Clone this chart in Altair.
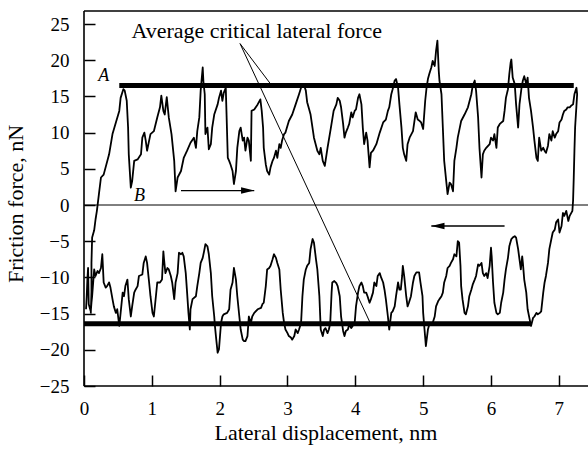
import altair as alt
import pandas as pd

# ---- forward (upper) trace: lateral displacement (nm), friction force (nN)
up_x = [0.10, 0.11, 0.11, 0.12, 0.15, 0.17, 0.19, 0.22, 0.25, 0.29,
        0.37, 0.42, 0.47, 0.52, 0.54, 0.58, 0.60, 0.63, 0.65, 0.66,
        0.69, 0.71, 0.74, 0.79, 0.84, 0.86, 0.89, 0.91, 0.93, 0.96,
        0.98, 1.03, 1.08, 1.12, 1.14, 1.17, 1.19, 1.22, 1.25, 1.29,
        1.33, 1.35, 1.38, 1.43, 1.47, 1.52, 1.57, 1.62, 1.65, 1.67,
        1.70, 1.72, 1.75, 1.76, 1.78, 1.79, 1.82, 1.84, 1.87, 1.89,
        1.92, 1.97, 1.99, 2.02, 2.04, 2.06, 2.09, 2.10, 2.12, 2.14,
        2.16, 2.19, 2.21, 2.24, 2.26, 2.29, 2.31, 2.34, 2.36, 2.38,
        2.41, 2.43, 2.46, 2.47, 2.51, 2.56, 2.60, 2.62, 2.64, 2.65,
        2.68, 2.70, 2.73, 2.75, 2.78, 2.80, 2.83, 2.85, 2.88, 2.90,
        2.92, 2.95, 2.97, 3.02, 3.07, 3.12, 3.17, 3.21, 3.24, 3.27,
        3.29, 3.32, 3.34, 3.39, 3.44, 3.47, 3.49, 3.52, 3.55, 3.59,
        3.64, 3.68, 3.72, 3.74, 3.77, 3.79, 3.82, 3.84, 3.86, 3.89,
        3.91, 3.94, 3.96, 3.99, 4.01, 4.04, 4.06, 4.09, 4.11, 4.13,
        4.16, 4.18, 4.21, 4.23, 4.26, 4.31, 4.36, 4.41, 4.45, 4.48,
        4.50, 4.53, 4.55, 4.58, 4.60, 4.63, 4.65, 4.68, 4.70, 4.72,
        4.75, 4.77, 4.80, 4.85, 4.89, 4.92, 4.95, 4.97, 5.00, 5.03,
        5.05, 5.07, 5.09, 5.12, 5.14, 5.17, 5.19, 5.21, 5.23, 5.24,
        5.27, 5.29, 5.31, 5.34, 5.36, 5.39, 5.41, 5.44, 5.46, 5.49,
        5.51, 5.54, 5.56, 5.61, 5.66, 5.71, 5.73, 5.76, 5.78, 5.81,
        5.83, 5.86, 5.88, 5.90, 5.93, 5.98, 6.00, 6.03, 6.05, 6.08,
        6.10, 6.13, 6.18, 6.20, 6.22, 6.25, 6.27, 6.29, 6.30, 6.32,
        6.35, 6.37, 6.40, 6.42, 6.45, 6.47, 6.49, 6.52, 6.54, 6.56,
        6.59, 6.62, 6.64, 6.67, 6.69, 6.71, 6.74, 6.77, 6.79, 6.81,
        6.84, 6.86, 6.89, 6.91, 6.94, 6.96, 6.99, 7.01, 7.04, 7.06,
        7.08, 7.11, 7.13, 7.16, 7.18, 7.21, 7.23, 7.26, 7.27, 7.24,
        7.23, 7.22, 7.21, 7.20]
up_y = [-15.0, -12.0, -8.0, -4.5, -3.5, -2.0, -0.8, 1.5, 3.8, 4.2,
        7.0, 9.8, 11.4, 13.0, 14.8, 16.0, 15.8, 14.4, 10.7, 7.0,
        2.4, 3.3, 6.1, 6.3, 7.0, 9.3, 10.0, 8.9, 7.5, 8.9,
        9.8, 10.2, 12.1, 13.5, 15.1, 13.0, 12.5, 14.9, 12.1, 9.8,
        6.1, 1.9, 3.8, 4.7, 6.5, 7.5, 8.6, 9.3, 7.9, 10.2,
        12.1, 15.8, 19.0, 17.1, 15.3, 9.8, 10.7, 7.7, 8.4, 10.7,
        12.5, 13.9, 14.8, 15.8, 14.4, 15.5, 16.2, 13.0, 6.5, 6.1,
        5.6, 4.7, 2.9, 4.7, 7.9, 10.2, 10.7, 8.9, 9.3, 7.5,
        9.3, 8.9, 6.1, 13.0, 13.2, 13.9, 14.6, 13.0, 10.7, 7.9,
        5.6, 4.7, 4.2, 5.2, 6.1, 6.5, 7.5, 6.5, 8.4, 7.9,
        8.9, 9.8, 10.0, 11.6, 12.5, 13.9, 15.3, 16.5, 16.7, 15.8,
        14.2, 13.2, 12.5, 9.3, 7.5, 7.0, 7.9, 6.1, 5.4, 7.9,
        10.7, 13.0, 13.9, 14.8, 14.4, 13.5, 11.2, 9.3, 10.0, 10.7,
        11.2, 12.8, 12.1, 13.0, 13.2, 14.8, 15.3, 13.9, 10.7, 8.4,
        10.0, 8.9, 5.2, 7.2, 7.5, 8.4, 10.0, 11.4, 11.8, 13.0,
        13.5, 15.3, 16.0, 17.2, 17.4, 16.2, 13.9, 10.7, 7.9, 7.0,
        6.1, 8.4, 9.3, 10.2, 12.8, 11.8, 11.6, 11.4, 10.5, 14.4,
        16.2, 17.4, 18.1, 19.0, 19.9, 19.2, 21.3, 22.7, 18.5, 17.2,
        15.3, 10.7, 6.1, 3.3, 1.5, 3.1, 2.9, 1.9, 6.1, 7.9,
        9.3, 10.7, 11.6, 12.5, 13.5, 15.3, 16.5, 17.2, 15.8, 12.1,
        7.9, 3.8, 7.0, 7.5, 7.9, 8.4, 9.3, 8.9, 9.8, 7.9,
        10.7, 11.2, 11.6, 13.0, 14.8, 16.0, 18.1, 19.7, 20.1, 17.6,
        16.7, 13.9, 10.7, 13.9, 16.2, 17.2, 17.8, 16.7, 17.6, 14.8,
        13.0, 10.7, 8.9, 6.5, 6.1, 9.3, 7.5, 7.9, 7.5, 7.2,
        8.2, 9.8, 8.9, 10.2, 9.3, 9.8, 10.2, 11.4, 11.8, 12.5,
        13.0, 13.2, 13.5, 13.5, 13.7, 13.9, 15.3, 16.2, 15.3, 10.7,
        7.5, 3.8, 0.6, -0.8]

# ---- backward (lower) trace, in the order it was recorded (right to left)
lo_x = [7.16, 7.14, 7.12, 7.11, 7.08, 7.06, 7.04, 7.01, 6.99, 6.96,
        6.94, 6.91, 6.89, 6.86, 6.84, 6.81, 6.79, 6.77, 6.74, 6.72,
        6.69, 6.67, 6.64, 6.62, 6.59, 6.57, 6.54, 6.52, 6.49, 6.47,
        6.46, 6.44, 6.42, 6.40, 6.37, 6.35, 6.32, 6.30, 6.27, 6.25,
        6.22, 6.20, 6.18, 6.15, 6.13, 6.10, 6.08, 6.05, 6.03, 6.01,
        6.00, 5.98, 5.95, 5.93, 5.90, 5.88, 5.86, 5.83, 5.81, 5.78,
        5.76, 5.73, 5.71, 5.68, 5.66, 5.63, 5.61, 5.58, 5.56, 5.55,
        5.53, 5.51, 5.49, 5.46, 5.44, 5.41, 5.39, 5.36, 5.34, 5.31,
        5.29, 5.27, 5.24, 5.22, 5.19, 5.17, 5.14, 5.12, 5.09, 5.07,
        5.04, 5.02, 5.00, 4.99, 4.96, 4.94, 4.90, 4.87, 4.85, 4.82,
        4.79, 4.77, 4.75, 4.72, 4.70, 4.69, 4.67, 4.65, 4.63, 4.60,
        4.58, 4.55, 4.53, 4.50, 4.48, 4.45, 4.43, 4.41, 4.38, 4.36,
        4.33, 4.31, 4.28, 4.26, 4.23, 4.21, 4.18, 4.16, 4.13, 4.11,
        4.09, 4.06, 4.04, 4.01, 3.99, 3.96, 3.94, 3.91, 3.89, 3.86,
        3.84, 3.82, 3.79, 3.77, 3.74, 3.72, 3.69, 3.66, 3.65, 3.63,
        3.61, 3.59, 3.56, 3.54, 3.52, 3.49, 3.47, 3.44, 3.42, 3.39,
        3.37, 3.34, 3.32, 3.29, 3.27, 3.24, 3.22, 3.20, 3.17, 3.15,
        3.12, 3.10, 3.07, 3.05, 3.02, 3.00, 2.97, 2.95, 2.93, 2.90,
        2.88, 2.85, 2.83, 2.80, 2.78, 2.75, 2.73, 2.70, 2.68, 2.65,
        2.63, 2.61, 2.56, 2.51, 2.48, 2.46, 2.43, 2.41, 2.38, 2.36,
        2.34, 2.31, 2.29, 2.26, 2.24, 2.21, 2.19, 2.16, 2.14, 2.11,
        2.06, 2.04, 2.02, 1.99, 1.97, 1.95, 1.93, 1.92, 1.89, 1.87,
        1.84, 1.82, 1.79, 1.77, 1.75, 1.72, 1.70, 1.67, 1.65, 1.60,
        1.57, 1.56, 1.54, 1.52, 1.50, 1.47, 1.45, 1.43, 1.40, 1.38,
        1.35, 1.33, 1.30, 1.28, 1.25, 1.23, 1.20, 1.18, 1.17, 1.15,
        1.12, 1.08, 1.06, 1.03, 1.01, 0.98, 0.96, 0.93, 0.91, 0.88,
        0.86, 0.81, 0.79, 0.76, 0.74, 0.71, 0.69, 0.66, 0.64, 0.61,
        0.59, 0.57, 0.54, 0.52, 0.49, 0.47, 0.44, 0.42, 0.39, 0.37,
        0.34, 0.32, 0.29, 0.27, 0.25, 0.22, 0.20, 0.17, 0.15, 0.12,
        0.11, 0.10, 0.07, 0.06, 0.05, 0.04, 0.03]
lo_y = [-1.5, -2.2, -1.3, -0.8, -1.5, -1.1, -2.9, -3.8, -2.0, -2.4,
        -3.4, -3.8, -4.7, -6.1, -8.0, -9.8, -10.7, -12.1, -14.7, -14.9,
        -15.1, -14.9, -15.4, -15.6, -16.7, -15.8, -14.4, -12.1, -10.3, -8.0,
        -7.1, -8.9, -7.5, -6.1, -4.5, -4.3, -4.5, -4.7, -5.7, -7.3,
        -8.9, -10.3, -12.1, -13.5, -14.9, -15.1, -14.9, -13.5, -10.7, -7.1,
        -5.9, -8.4, -10.1, -9.4, -9.8, -9.4, -8.0, -8.4, -8.2, -9.8,
        -10.3, -11.0, -11.7, -12.6, -14.0, -15.1, -14.9, -13.0, -11.2, -8.4,
        -5.2, -5.0, -7.1, -6.8, -7.5, -8.0, -8.4, -8.7, -9.8, -10.7,
        -12.1, -12.6, -13.0, -13.3, -14.0, -15.4, -16.3, -16.5, -16.5, -17.2,
        -19.5, -17.2, -14.9, -12.6, -10.7, -9.3, -9.3, -9.8, -10.7, -12.6,
        -13.5, -14.0, -12.6, -9.8, -8.4, -9.8, -11.7, -11.7, -10.7, -12.6,
        -14.0, -14.7, -14.9, -17.2, -15.4, -13.0, -11.7, -10.7, -10.0, -9.4,
        -9.8, -11.2, -10.7, -12.1, -13.0, -13.5, -12.6, -12.1, -12.1, -11.2,
        -10.7, -11.2, -12.1, -14.0, -16.3, -16.7, -17.0, -16.5, -17.2, -17.4,
        -18.1, -17.4, -15.4, -12.6, -11.2, -10.8, -10.5, -10.7, -12.1, -16.3,
        -17.2, -17.7, -17.0, -17.2, -18.1, -17.2, -12.6, -8.9, -7.5, -5.2,
        -4.7, -6.1, -8.0, -8.4, -8.9, -10.3, -12.6, -16.3, -17.2, -17.7,
        -17.2, -18.1, -18.6, -18.3, -18.1, -17.7, -17.2, -16.3, -14.9, -11.7,
        -8.9, -8.0, -7.3, -6.8, -7.5, -8.4, -8.7, -8.9, -11.2, -13.5,
        -13.7, -14.2, -14.4, -14.9, -15.4, -16.3, -15.4, -18.1, -18.8, -18.8,
        -18.6, -17.2, -15.4, -12.6, -10.3, -8.7, -10.7, -11.7, -14.4, -14.9,
        -15.1, -15.4, -16.3, -19.9, -20.4, -18.6, -16.7, -15.4, -12.6, -9.4,
        -6.8, -5.7, -5.4, -6.4, -7.3, -8.0, -9.4, -11.2, -12.6, -13.0,
        -14.4, -17.2, -14.9, -12.1, -9.4, -7.1, -6.6, -6.8, -6.6, -9.4,
        -10.7, -13.0, -10.7, -9.8, -8.9, -8.7, -9.4, -7.5, -6.4, -10.3,
        -10.7, -10.7, -12.6, -15.4, -14.9, -12.6, -10.7, -8.0, -7.1, -8.0,
        -9.6, -9.8, -11.2, -11.7, -12.1, -14.0, -15.4, -13.0, -10.3, -11.2,
        -12.6, -12.1, -14.9, -16.7, -14.4, -14.9, -14.0, -13.0, -11.4, -10.7,
        -11.2, -11.4, -10.7, -6.8, -8.7, -9.4, -9.1, -9.8, -8.9, -12.6,
        -13.5, -14.7, -13.7, -8.7, -10.3, -12.6, -14.4]

# ---- average critical lateral force levels
avg_x = [0.52, 0.0]
avg_x2 = [7.22, 6.59]
avg_y = [16.5, -16.4]

# ---- leader lines of the annotation
lead_x = [2.30, 2.30]
lead_y = [22.3, 22.3]
lead_x2 = [2.76, 4.22]
lead_y2 = [16.6, -16.3]

# ---- direction arrows (tail -> head)
arr_x = [1.43, 6.20]
arr_x2 = [2.51, 5.12]
arr_y = [2.0, -2.9]
arr_angle = [0, 180]

# ---- texts
note_text = ["Average critical lateral force"]
note_x = [0.70]
note_y = [23.1]
letter_text = ["A", "B"]
letter_x = [0.29, 0.82]
letter_y = [17.8, 1.2]

x_ticks = [0, 1, 2, 3, 4, 5, 6, 7]
y_ticks = [-25, -20, -15, -10, -5, 0, 5, 10, 15, 20, 25]
x_domain = [0, 7.43]
y_domain = [-25, 26.8]

assert len(up_x) == len(up_y) and len(lo_x) == len(lo_y)

FONT = "Liberation Serif"
xs = alt.Scale(domain=x_domain, nice=False, zero=False)
ys = alt.Scale(domain=y_domain, nice=False, zero=False)

x_axis = alt.Axis(values=x_ticks, format="d", domain=False, grid=False,
                  ticks=True, tickSize=11, offset=-11, tickColor="black",
                  tickWidth=1.5, labelFont=FONT, labelFontSize=19,
                  labelColor="black", labelPadding=13, labelFlush=False,
                  labelOverlap=False,
                  title="Lateral displacement, nm", titleFont=FONT,
                  titleFontSize=22, titleFontWeight="normal",
                  titleColor="black", titleX=241.5, titleY=64,
                  titleBaseline="alphabetic", titleAlign="center")
y_axis = alt.Axis(values=y_ticks, format="d", domain=False, grid=False,
                  ticks=True, tickSize=11, offset=-11, tickColor="black",
                  tickWidth=1.5, labelFont=FONT, labelFontSize=19,
                  labelColor="black", labelPadding=15, labelOverlap=False,
                  title="Friction force, nN", titleFont=FONT,
                  titleFontSize=22, titleFontWeight="normal",
                  titleColor="black", titleX=-73, titleY=192.5,
                  titleAngle=270, titleBaseline="alphabetic",
                  titleAlign="center")


def X(field):
    return alt.X(field, type="quantitative", scale=xs, axis=x_axis)


def Y(field):
    return alt.Y(field, type="quantitative", scale=ys, axis=y_axis)


trace = pd.DataFrame({
    "x": up_x + lo_x,
    "y": up_y + lo_y,
    "i": list(range(len(up_x) + len(lo_x))),
})

line = alt.Chart(trace).mark_line(color="black", strokeWidth=1.8,
                                  strokeJoin="round").encode(
    x=X("x"), y=Y("y"), order=alt.Order("i:Q"))

frame_left = alt.Chart(pd.DataFrame({"x": [x_domain[0]]})).mark_rule(
    color="black", strokeWidth=1.6).encode(x=X("x"))
frame_h = alt.Chart(pd.DataFrame({"y": [y_domain[0], y_domain[1]]})).mark_rule(
    color="black", strokeWidth=1.6).encode(y=Y("y"))
zero = alt.Chart(pd.DataFrame({"y": [0]})).mark_rule(
    color="black", strokeWidth=1).encode(y=Y("y"))

avg = alt.Chart(pd.DataFrame({"x": avg_x, "x2": avg_x2, "y": avg_y})).mark_rule(
    color="black", strokeWidth=5).encode(x=X("x"), x2="x2:Q", y=Y("y"))

leads = alt.Chart(pd.DataFrame({"x": lead_x, "y": lead_y,
                                "x2": lead_x2, "y2": lead_y2})).mark_rule(
    color="black", strokeWidth=1).encode(
    x=X("x"), x2="x2:Q", y=Y("y"), y2="y2:Q")

arr_df = pd.DataFrame({"x": arr_x, "x2": arr_x2, "y": arr_y, "a": arr_angle})
shafts = alt.Chart(arr_df).mark_rule(color="black", strokeWidth=1.3).encode(
    x=X("x"), x2="x2:Q", y=Y("y"))
heads = alt.Chart(arr_df).mark_point(
    shape="M0,0 L-2.2,-0.55 L-2.2,0.55 Z", filled=True, size=144,
    color="black", opacity=1, strokeWidth=0).encode(
    x=X("x2"), y=Y("y"), angle=alt.Angle("a:Q", scale=None))

note = alt.Chart(pd.DataFrame({"t": note_text, "x": note_x, "y": note_y})).mark_text(
    font=FONT, fontSize=22, color="black", align="left",
    baseline="alphabetic").encode(x=X("x"), y=Y("y"), text="t:N")

letters = alt.Chart(pd.DataFrame({"t": letter_text, "x": letter_x,
                                  "y": letter_y})).mark_text(
    font=FONT, fontSize=18, fontStyle="italic", color="black",
    align="center", baseline="middle").encode(x=X("x"), y=Y("y"), text="t:N")

chart = alt.layer(line, frame_left, frame_h, zero, avg, leads, shafts, heads,
                  note, letters).properties(
    width=504, height=375,
    padding={"left": 84, "top": 11, "right": 0, "bottom": 65},
    autosize=alt.AutoSizeParams(type="none"),
    background="white",
).configure_view(stroke="transparent")

chart.save("out.html", embed_options={"renderer": "svg", "actions": False})
